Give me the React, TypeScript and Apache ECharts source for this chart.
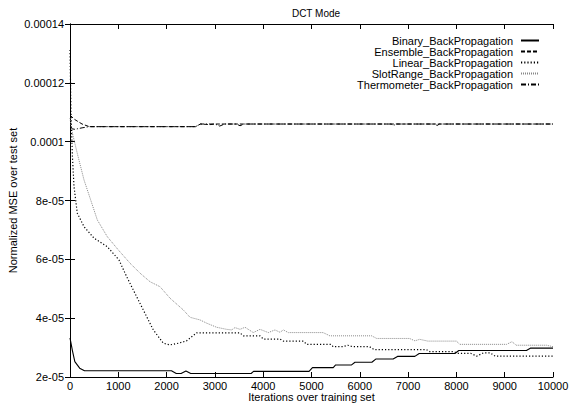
import React, { useEffect, useRef } from "react";
import * as echarts from "echarts";

const seriesNames = [
  "Binary_BackPropagation",
  "Ensemble_BackPropagation",
  "Linear_BackPropagation",
  "SlotRange_BackPropagation",
  "Thermometer_BackPropagation",
];

const yTickLabels = ["2e-05", "4e-05", "6e-05", "8e-05", "0.0001", "0.00012", "0.00014"];

const binary: [number, number][] = [
  [0, 3.33e-5], [50, 2.9e-5], [100, 2.52e-5], [200, 2.3e-5], [300, 2.21e-5],
  [2100, 2.21e-5], [2200, 2.12e-5], [2300, 2.12e-5], [2400, 2.2e-5], [2500, 2.12e-5],
  [3750, 2.12e-5], [3800, 2.19e-5], [4950, 2.19e-5], [5020, 2.32e-5], [5450, 2.32e-5],
  [5500, 2.41e-5], [5830, 2.41e-5], [5900, 2.5e-5], [6250, 2.5e-5], [6330, 2.61e-5],
  [6690, 2.61e-5], [6780, 2.7e-5], [7140, 2.7e-5], [7230, 2.8e-5], [7970, 2.8e-5],
  [8050, 2.9e-5], [9450, 2.9e-5], [9530, 2.98e-5], [10000, 2.98e-5],
];

const ensemble: [number, number][] = [
  [0, 1.09e-4], [100, 1.075e-4], [250, 1.06e-4], [400, 1.051e-4], [2600, 1.051e-4],
  [2700, 1.06e-4], [2900, 1.058e-4], [3000, 1.06e-4], [10000, 1.06e-4],
];

const linear: [number, number][] = [
  [0, 1.312e-4], [20, 1.1e-4], [50, 9.5e-5], [83, 8.47e-5], [151, 7.57e-5],
  [290, 7.11e-5], [497, 6.72e-5], [772, 6.43e-5], [1014, 5.98e-5], [1173, 5.41e-5],
  [1450, 4.5e-5], [1725, 3.6e-5], [1932, 3.15e-5], [2070, 3.09e-5], [2250, 3.15e-5],
  [2415, 3.23e-5], [2623, 3.5e-5], [3520, 3.5e-5], [3589, 3.4e-5], [3934, 3.4e-5],
  [4003, 3.29e-5], [4348, 3.29e-5], [4417, 3.22e-5], [4831, 3.22e-5], [4900, 3.11e-5],
  [5400, 3.11e-5], [5450, 3.03e-5], [5650, 3.03e-5], [5750, 3.08e-5], [5850, 3.03e-5],
  [6200, 3.03e-5], [6300, 2.93e-5], [7380, 2.93e-5], [7450, 2.86e-5], [7940, 2.86e-5],
  [8050, 2.8e-5], [8300, 2.8e-5], [8420, 2.71e-5], [8560, 2.82e-5], [8700, 2.82e-5],
  [8800, 2.71e-5], [10000, 2.71e-5],
];

const slotRange: [number, number][] = [
  [0, 1.08e-4], [48, 1.03e-4], [151, 9.6e-5], [290, 8.7e-5], [428, 8.02e-5],
  [565, 7.34e-5], [772, 6.77e-5], [1000, 6.32e-5], [1242, 5.87e-5], [1450, 5.53e-5],
  [1656, 5.24e-5], [1863, 5.07e-5], [2070, 4.68e-5], [2346, 4.28e-5], [2484, 4.03e-5],
  [2692, 3.94e-5], [2830, 3.83e-5], [3037, 3.69e-5], [3244, 3.62e-5], [3347, 3.6e-5],
  [3416, 3.68e-5], [3520, 3.62e-5], [3623, 3.69e-5], [3795, 3.51e-5], [3934, 3.62e-5],
  [4106, 3.51e-5], [4244, 3.6e-5], [4348, 3.52e-5], [4417, 3.6e-5], [4520, 3.51e-5],
  [5240, 3.51e-5], [5380, 3.4e-5], [6245, 3.4e-5], [6350, 3.31e-5], [7030, 3.31e-5],
  [7140, 3.23e-5], [7240, 3.28e-5], [7410, 3.22e-5], [8000, 3.22e-5], [8070, 3.11e-5],
  [9040, 3.11e-5], [9150, 3.2e-5], [9240, 3.08e-5], [9870, 3.08e-5], [10000, 3.03e-5],
];

const thermometer: [number, number][] = [
  [0, 1.045e-4], [100, 1.042e-4], [250, 1.047e-4], [400, 1.051e-4], [2600, 1.051e-4],
  [2700, 1.06e-4], [3000, 1.06e-4], [3100, 1.053e-4], [3200, 1.06e-4], [3450, 1.06e-4],
  [3520, 1.054e-4], [3600, 1.06e-4], [6650, 1.06e-4], [6700, 1.055e-4], [6750, 1.06e-4],
  [7550, 1.06e-4], [7600, 1.055e-4], [7650, 1.06e-4], [10000, 1.06e-4],
];

const FONT = "Liberation Sans";

export default function App() {
  const ref = useRef<HTMLDivElement>(null);
  useEffect(() => {
    if (!ref.current) return;
    const chart = echarts.init(ref.current, undefined, { renderer: "svg" });
    const yFmt = (v: number) => {
      const i = Math.round((v - 2e-5) / 2e-5);
      return yTickLabels[i] ?? "";
    };
    const tick = { show: true, inside: true, length: 5, lineStyle: { color: "#000" } };
    const axLine = { show: true, lineStyle: { color: "#000", width: 1 } };
    const styles: any[] = [
      { color: "#000", width: 1.1, type: "solid" },
      { color: "#000", width: 1, type: [4, 2] },
      { color: "#000", width: 1.2, type: [1.2, 2] },
      { color: "#888", width: 1, type: [1, 1] },
      { color: "#000", width: 1, type: [5, 2, 1, 2] },
    ];
    const datas = [binary, ensemble, linear, slotRange, thermometer];
    chart.setOption({
      animation: false,
      backgroundColor: "#fff",
      textStyle: { fontFamily: FONT },
      title: {
        text: "DCT Mode",
        left: 311,
        textAlign: "center",
        top: 3,
        textStyle: { fontSize: 10, fontWeight: "normal", color: "#000", fontFamily: FONT },
      },
      legend: {
        orient: "vertical",
        right: 31,
        top: 30,
        align: "right",
        itemWidth: 18,
        itemHeight: 8,
        itemGap: 0,
        itemStyle: { opacity: 0 },
        textStyle: { fontSize: 11, lineHeight: 11, color: "#000", fontFamily: FONT, padding: [0, 3, 0, 0] },
        data: seriesNames,
      },
      grid: { left: 70, right: 23, top: 24, bottom: 26, containLabel: false, outerBoundsMode: "none" },
      xAxis: [
        {
          type: "value",
          min: 0,
          max: 10000,
          interval: 1000,
          name: "Iterations over training set",
          nameLocation: "middle",
          nameGap: 14,
          nameMoveOverlap: false,
          nameTextStyle: { fontSize: 11, lineHeight: 11, color: "#000", fontFamily: FONT },
          axisLine: axLine,
          axisTick: tick,
          axisLabel: {
            fontSize: 11,
            lineHeight: 10,
            color: "#000",
            margin: 4,
            fontFamily: FONT,
            formatter: (v: number) => String(v),
          },
          splitLine: { show: false },
        },
        {
          type: "value",
          position: "top",
          min: 0,
          max: 10000,
          interval: 1000,
          axisLine: axLine,
          axisTick: tick,
          axisLabel: { show: false },
          splitLine: { show: false },
        },
      ],
      yAxis: [
        {
          type: "value",
          min: 2e-5,
          max: 1.4e-4,
          interval: 2e-5,
          name: "Normalized MSE over test set",
          nameLocation: "middle",
          nameGap: 52,
          nameMoveOverlap: false,
          nameTextStyle: { fontSize: 11, color: "#000", fontFamily: FONT },
          axisLine: axLine,
          axisTick: tick,
          axisLabel: { fontSize: 11, color: "#000", margin: 6, formatter: yFmt, fontFamily: FONT },
          splitLine: { show: false },
        },
        {
          type: "value",
          position: "right",
          min: 2e-5,
          max: 1.4e-4,
          interval: 2e-5,
          axisLine: axLine,
          axisTick: tick,
          axisLabel: { show: false },
          splitLine: { show: false },
        },
      ],
      series: seriesNames.map((name, i) => ({
        name,
        type: "line",
        data: datas[i],
        symbol: "none",
        showSymbol: false,
        xAxisIndex: 0,
        yAxisIndex: 0,
        color: styles[i].color,
        lineStyle: styles[i],
        z: 5 - i,
      })),
    });
    return () => chart.dispose();
  }, []);
  return (
    <div
      ref={ref}
      style={{ position: "absolute", left: 0, top: 0, width: 576, height: 403 }}
    />
  );
}
